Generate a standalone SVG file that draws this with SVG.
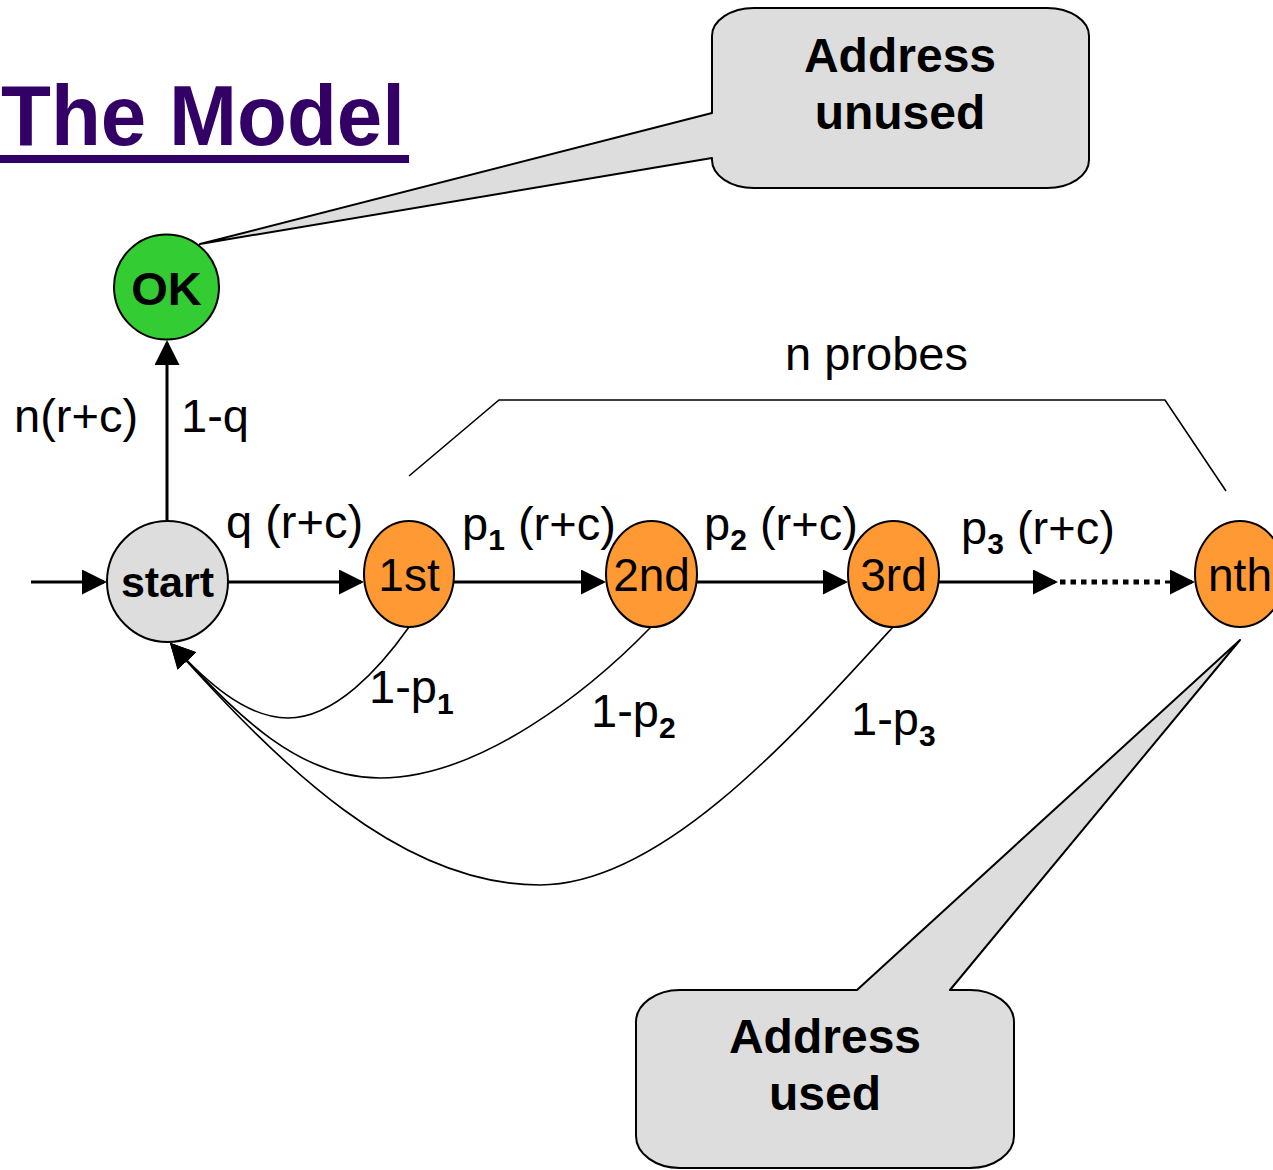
<svg xmlns="http://www.w3.org/2000/svg" width="1273" height="1170" viewBox="0 0 1273 1170">
<defs>
<style>
text{font-family:"Liberation Sans",Arial,Helvetica,sans-serif;fill:#000}
.lbl{font-size:47px}
.nl{font-size:46px;text-anchor:middle}
.sub{font-size:30px;font-weight:bold}
.node{stroke:#000;stroke-width:2}
.edge{fill:none;stroke:#000;stroke-width:3}
.ret{fill:none;stroke:#000;stroke-width:1.6}
.callout{fill:#dddddd;stroke:#000;stroke-width:2;stroke-linejoin:round}
.ctext{font-size:48px;font-weight:bold;text-anchor:middle}
</style>
<marker id="arr" markerUnits="userSpaceOnUse" viewBox="0 0 25 25" refX="22" refY="12.5" markerWidth="25" markerHeight="25" orient="auto">
<path d="M0,0 L25,12.5 L0,25 z" fill="#000"/>
</marker>
</defs>
<rect width="1273" height="1170" fill="#fff"/>

<g id="title">
<text x="1" y="145" font-size="85" font-weight="bold" textLength="404" lengthAdjust="spacingAndGlyphs" style="fill:#330066">The Model</text>
<rect x="0" y="155" width="409" height="8" fill="#330066"/>
</g>

<g id="callout-unused">
<path class="callout" d="M712,113 L712,36 A42,28 0 0 1 754,8 L1047,8 A42,28 0 0 1 1089,36 L1089,160 A42,28 0 0 1 1047,188 L754,188 A42,28 0 0 1 712,160 L712,158 L200,244 Z"/>
<text class="ctext" x="900" y="72">Address</text>
<text class="ctext" x="900" y="129">unused</text>
</g>

<g id="callout-used">
<path class="callout" d="M857,990 L1240,640 L950,990 L970,990 A44,32 0 0 1 1014,1022 L1014,1136 A44,32 0 0 1 970,1168 L680,1168 A44,32 0 0 1 636,1136 L636,1022 A44,32 0 0 1 680,990 Z"/>
<text class="ctext" x="825" y="1053">Address</text>
<text class="ctext" x="825" y="1110">used</text>
</g>

<g id="connectors">
<line class="edge" x1="31" y1="582" x2="104" y2="582" marker-end="url(#arr)"/>
<line class="edge" x1="167" y1="521" x2="167" y2="343" marker-end="url(#arr)"/>
<line class="edge" x1="228" y1="582" x2="361" y2="582" marker-end="url(#arr)"/>
<line class="edge" x1="454" y1="582" x2="603" y2="582" marker-end="url(#arr)"/>
<line class="edge" x1="697" y1="582" x2="845" y2="582" marker-end="url(#arr)"/>
<line class="edge" x1="939" y1="582" x2="1055" y2="582" marker-end="url(#arr)"/>
<line x1="1060" y1="582" x2="1165" y2="582" stroke="#000" stroke-width="5" stroke-dasharray="5.5 5"/>
<line class="edge" x1="1165" y1="582" x2="1192" y2="582" marker-end="url(#arr)" stroke-width="0.1"/>
<path class="ret" d="M409,627 C380,668 335,718 288,718 C245,718 205,680 172,645" marker-end="url(#arr)"/>
<path class="ret" d="M651,627 C590,690 480,778 380,778 C290,778 225,700 172,645" marker-end="url(#arr)"/>
<path class="ret" d="M893,627 C790,740 660,885 540,885 C400,885 280,765 172,645" marker-end="url(#arr)"/>
<polyline fill="none" stroke="#000" stroke-width="1.6" points="409,476 499,400 1165,400 1226,491"/>
</g>

<g id="labels">
<text class="lbl" x="14" y="432">n(r+c)</text>
<text class="lbl" x="181" y="432">1-q</text>
<text class="lbl" x="226" y="538">q (r+c)</text>
<text class="lbl" x="462" y="540">p<tspan class="sub" dy="10">1</tspan><tspan dy="-10"> (r+c)</tspan></text>
<text class="lbl" x="704" y="540">p<tspan class="sub" dy="10">2</tspan><tspan dy="-10"> (r+c)</tspan></text>
<text class="lbl" x="961" y="544">p<tspan class="sub" dy="10">3</tspan><tspan dy="-10"> (r+c)</tspan></text>
<text class="lbl" x="785" y="370">n probes</text>
<text class="lbl" x="369" y="703">1-p<tspan class="sub" dy="11">1</tspan></text>
<text class="lbl" x="591" y="727">1-p<tspan class="sub" dy="11">2</tspan></text>
<text class="lbl" x="851" y="735">1-p<tspan class="sub" dy="11">3</tspan></text>
</g>

<g id="node-ok">
<circle class="node" cx="166.5" cy="287" r="52.5" fill="#33cc33"/>
<text x="166.5" y="305" font-size="47" font-weight="bold" text-anchor="middle">OK</text>
</g>
<g id="node-start">
<circle class="node" cx="167.5" cy="581.5" r="60.5" fill="#dddddd"/>
<text x="167.5" y="597" font-size="43" font-weight="bold" text-anchor="middle">start</text>
</g>
<g id="node-1st">
<ellipse class="node" cx="409" cy="574" rx="45" ry="53" fill="#ff9933"/>
<text class="nl" x="409" y="591">1st</text>
</g>
<g id="node-2nd">
<ellipse class="node" cx="651.5" cy="574" rx="45.5" ry="53" fill="#ff9933"/>
<text class="nl" x="651.5" y="591">2nd</text>
</g>
<g id="node-3rd">
<ellipse class="node" cx="893.5" cy="574" rx="45.5" ry="53" fill="#ff9933"/>
<text class="nl" x="893.5" y="591">3rd</text>
</g>
<g id="node-nth">
<ellipse class="node" cx="1240" cy="574" rx="45" ry="53" fill="#ff9933"/>
<text class="nl" x="1240" y="591">nth</text>
</g>
</svg>
